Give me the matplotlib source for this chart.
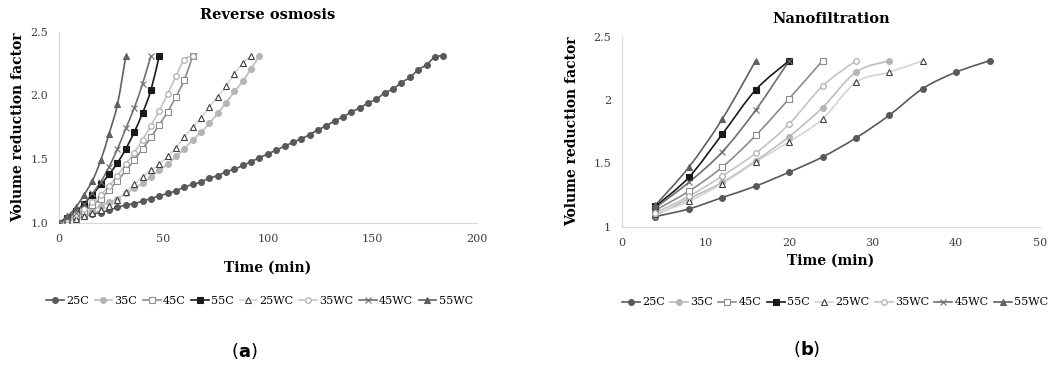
import matplotlib
matplotlib.use("Agg")
import matplotlib.pyplot as plt
from matplotlib.path import Path
from matplotlib.patches import PathPatch

plt.rcParams['font.family'] = ['DejaVu Serif']

labels = ["25C", "35C", "45C", "55C", "25WC", "35WC", "45WC", "55WC"]

# Reverse osmosis (a): samples every 4 min
ro_25c = [1.00, 1.02, 1.03, 1.05, 1.07, 1.08, 1.10, 1.12, 1.14, 1.15, 1.17, 1.19,
          1.21, 1.23, 1.25, 1.28, 1.30, 1.32, 1.35, 1.37, 1.40, 1.42, 1.45, 1.48,
          1.51, 1.54, 1.57, 1.60, 1.63, 1.66, 1.69, 1.73, 1.76, 1.80, 1.83, 1.87,
          1.90, 1.94, 1.97, 2.02, 2.05, 2.10, 2.14, 2.20, 2.24, 2.30, 2.31]
ro_35c = [1.00, 1.02, 1.05, 1.07, 1.10, 1.13, 1.16, 1.19, 1.23, 1.27, 1.31, 1.36,
          1.41, 1.46, 1.52, 1.58, 1.65, 1.71, 1.78, 1.86, 1.94, 2.03, 2.11, 2.21, 2.31]
ro_45c = [1.00, 1.03, 1.06, 1.09, 1.14, 1.19, 1.26, 1.33, 1.41, 1.49, 1.58, 1.67,
          1.77, 1.87, 1.99, 2.12, 2.31]
ro_55c = [1.00, 1.04, 1.09, 1.15, 1.22, 1.30, 1.38, 1.47, 1.58, 1.71, 1.86, 2.04, 2.31]
ro_25wc = [1.00, 1.01, 1.03, 1.05, 1.08, 1.10, 1.13, 1.18, 1.24, 1.30, 1.36, 1.41,
           1.46, 1.52, 1.59, 1.67, 1.75, 1.82, 1.91, 1.99, 2.07, 2.17, 2.25, 2.31]
ro_35wc = [1.00, 1.03, 1.07, 1.11, 1.16, 1.22, 1.29, 1.37, 1.46, 1.55, 1.65, 1.76,
           1.88, 2.01, 2.15, 2.28, 2.31]
ro_45wc = [1.00, 1.04, 1.08, 1.15, 1.23, 1.32, 1.44, 1.58, 1.74, 1.90, 2.09, 2.31]
ro_55wc = [1.00, 1.05, 1.12, 1.22, 1.33, 1.49, 1.70, 1.93, 2.31]

# Nanofiltration (b): samples every 4 min starting at 4
nf_25c = [1.08, 1.14, 1.23, 1.32, 1.43, 1.55, 1.70, 1.88, 2.09, 2.22, 2.31]
nf_35c = [1.09, 1.22, 1.35, 1.52, 1.71, 1.94, 2.22, 2.31]
nf_45c = [1.13, 1.28, 1.47, 1.72, 2.01, 2.31]
nf_55c = [1.16, 1.39, 1.73, 2.08, 2.31]
nf_25wc = [1.10, 1.20, 1.34, 1.51, 1.67, 1.85, 2.14, 2.22, 2.31]
nf_35wc = [1.11, 1.24, 1.40, 1.58, 1.81, 2.11, 2.31]
nf_45wc = [1.15, 1.35, 1.59, 1.92, 2.31]
nf_55wc = [1.17, 1.47, 1.85, 2.31]

styles = [
    dict(color='#595959', marker='o', mfc='#595959', mec='#595959', ms=4.2),
    dict(color='#bdbdbd', marker='o', mfc='#b5b5b5', mec='#b5b5b5', ms=4.2),
    dict(color='#8c8c8c', marker='s', mfc='white', mec='#8c8c8c', ms=4),
    dict(color='#1a1a1a', marker='s', mfc='#1a1a1a', mec='#1a1a1a', ms=4.2),
    dict(color='#d4d4d4', marker='^', mfc='white', mec='#404040', ms=4.5),
    dict(color='#c4c4c4', marker='o', mfc='white', mec='#a6a6a6', ms=4),
    dict(color='#6e6e6e', marker='x', mfc='#6e6e6e', mec='#6e6e6e', ms=4),
    dict(color='#606060', marker='^', mfc='#606060', mec='#606060', ms=4.2),
]


def smooth_path(xs, ys):
    # Excel-like smoothed line: cubic Bezier through the points
    verts = [(xs[0], ys[0])]
    codes = [Path.MOVETO]
    n = len(xs)
    for i in range(n - 1):
        x0, y0 = xs[max(i - 1, 0)], ys[max(i - 1, 0)]
        x1, y1 = xs[i], ys[i]
        x2, y2 = xs[i + 1], ys[i + 1]
        x3, y3 = xs[min(i + 2, n - 1)], ys[min(i + 2, n - 1)]
        c1 = (x1 + (x2 - x0) / 6, y1 + (y2 - y0) / 6)
        c2 = (x2 - (x3 - x1) / 6, y2 - (y3 - y1) / 6)
        verts += [c1, c2, (x2, y2)]
        codes += [Path.CURVE4] * 3
    return Path(verts, codes)


def draw_series(ax, xs, ys, lab, st):
    ax.add_patch(PathPatch(smooth_path(xs, ys), fill=False, edgecolor=st['color'],
                           lw=1.2, zorder=2))
    ax.plot(xs, ys, ls='none', marker=st['marker'], mfc=st['mfc'], mec=st['mec'],
            ms=st['ms'], mew=0.8, zorder=3)
    # legend proxy
    ax.plot([], [], label=lab, lw=1.2, mew=0.8, **st)


def style_axes(ax):
    for s in ['top', 'right']:
        ax.spines[s].set_visible(False)
    for s in ['left', 'bottom']:
        ax.spines[s].set_color('#d9d9d9')
        ax.spines[s].set_linewidth(0.9)
    ax.tick_params(length=0, labelsize=8, pad=8, colors='#404040')


fig = plt.figure(figsize=(10.52, 3.74), dpi=100)

# (a) Reverse osmosis
ax1 = fig.add_axes([0.0561, 0.4045, 0.397, 0.511])
ro_series = [ro_25c, ro_35c, ro_45c, ro_55c, ro_25wc, ro_35wc, ro_45wc, ro_55wc]
for lab, ys, st in zip(labels, ro_series, styles):
    xs = [4 * i for i in range(len(ys))]
    draw_series(ax1, xs, ys, lab, st)
ax1.set_xlim(0, 200)
ax1.set_ylim(1.0, 2.5)
ax1.set_xticks([0, 50, 100, 150, 200])
ax1.set_yticks([1.0, 1.5, 2.0, 2.5])
ax1.set_yticklabels(["1.0", "1.5", "2.0", "2.5"])
style_axes(ax1)
ax1.set_title("Reverse osmosis", fontsize=10.5, fontweight='bold', pad=9)
ax1.set_xlabel("Time (min)", fontsize=10, fontweight='bold', labelpad=12)
ax1.set_ylabel("Volume reduction factor", fontsize=10, fontweight='bold', labelpad=4)
ax1.legend(loc='upper center', bbox_to_anchor=(0.48, -0.33), ncol=8, frameon=False,
           fontsize=8, handlelength=1.6, handletextpad=0.2, columnspacing=0.5)

# (b) Nanofiltration
ax2 = fig.add_axes([0.5913, 0.394, 0.397, 0.508])
nf_series = [nf_25c, nf_35c, nf_45c, nf_55c, nf_25wc, nf_35wc, nf_45wc, nf_55wc]
for lab, ys, st in zip(labels, nf_series, styles):
    xs = [4 * (i + 1) for i in range(len(ys))]
    draw_series(ax2, xs, ys, lab, st)
ax2.set_xlim(0, 50)
ax2.set_ylim(1, 2.5)
ax2.set_xticks([0, 10, 20, 30, 40, 50])
ax2.set_yticks([1, 1.5, 2, 2.5])
ax2.set_yticklabels(["1", "1.5", "2", "2.5"])
style_axes(ax2)
ax2.set_title("Nanofiltration", fontsize=10.5, fontweight='bold', pad=10)
ax2.set_xlabel("Time (min)", fontsize=10, fontweight='bold', labelpad=4)
ax2.set_ylabel("Volume reduction factor", fontsize=10, fontweight='bold', labelpad=10)
ax2.legend(loc='upper center', bbox_to_anchor=(0.51, -0.32), ncol=8, frameon=False,
           fontsize=8, handlelength=1.6, handletextpad=0.2, columnspacing=0.5)

fig.text(0.232, 0.045, r"($\mathbf{a}$)", fontsize=13, ha='center', family='DejaVu Sans')
fig.text(0.767, 0.05, r"($\mathbf{b}$)", fontsize=13, ha='center', family='DejaVu Sans')

fig.savefig("out.png", dpi=100)
